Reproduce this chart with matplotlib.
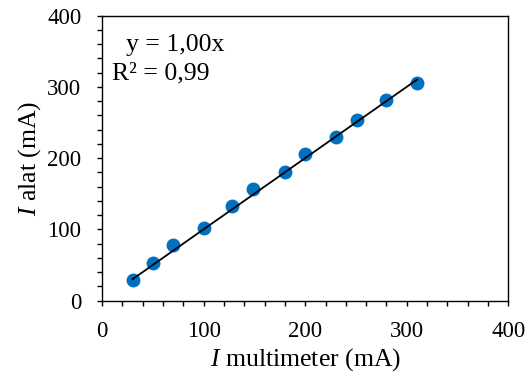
import matplotlib
matplotlib.use("Agg")
import matplotlib.pyplot as plt
from matplotlib.ticker import MultipleLocator
import numpy as np

plt.rcParams['font.family'] = ['Liberation Serif', 'DejaVu Serif']
plt.rcParams['mathtext.fontset'] = 'custom'
plt.rcParams['mathtext.it'] = 'Liberation Serif:italic'
plt.rcParams['mathtext.rm'] = 'Liberation Serif'

i_multimeter = [30, 50, 70, 100, 128, 149, 180, 200, 230, 251, 280, 310]
i_alat = [29, 53, 78, 102, 132, 156, 180, 205, 229, 253, 281, 305]
slope = 1.00

fig = plt.figure(figsize=(5.29, 3.79), dpi=100)
ax = fig.add_axes([0.193, 0.207, 0.768, 0.752])

x = np.array(i_multimeter)
ax.scatter(x, i_alat, s=100, color='#0070C0', zorder=2, linewidths=0)
xl = np.array([x.min(), x.max()])
ax.plot(xl, slope * xl, color='black', lw=1.3, zorder=3)

ax.set_xlim(0, 400)
ax.set_ylim(0, 400)
ax.xaxis.set_major_locator(MultipleLocator(100))
ax.yaxis.set_major_locator(MultipleLocator(100))
ax.xaxis.set_minor_locator(MultipleLocator(20))
ax.yaxis.set_minor_locator(MultipleLocator(20))
ax.tick_params(which='both', direction='out', labelsize=16.5, width=1)
ax.tick_params(which='major', length=3.5, pad=11.5)
ax.tick_params(which='minor', length=3.5)
for s in ax.spines.values():
    s.set_linewidth(1)

ax.set_xlabel(r'$I$ multimeter (mA)', fontsize=18.5, labelpad=3)
ax.set_ylabel(r'$I$ alat (mA)', fontsize=18.5, labelpad=3)

ax.text(0.06, 0.897, 'y = 1,00x', transform=ax.transAxes, fontsize=18.5,
        va='center', ha='left')
ax.text(0.025, 0.797, 'R² = 0,99', transform=ax.transAxes, fontsize=18.5,
        va='center', ha='left')

fig.savefig('out.png', dpi=100)
